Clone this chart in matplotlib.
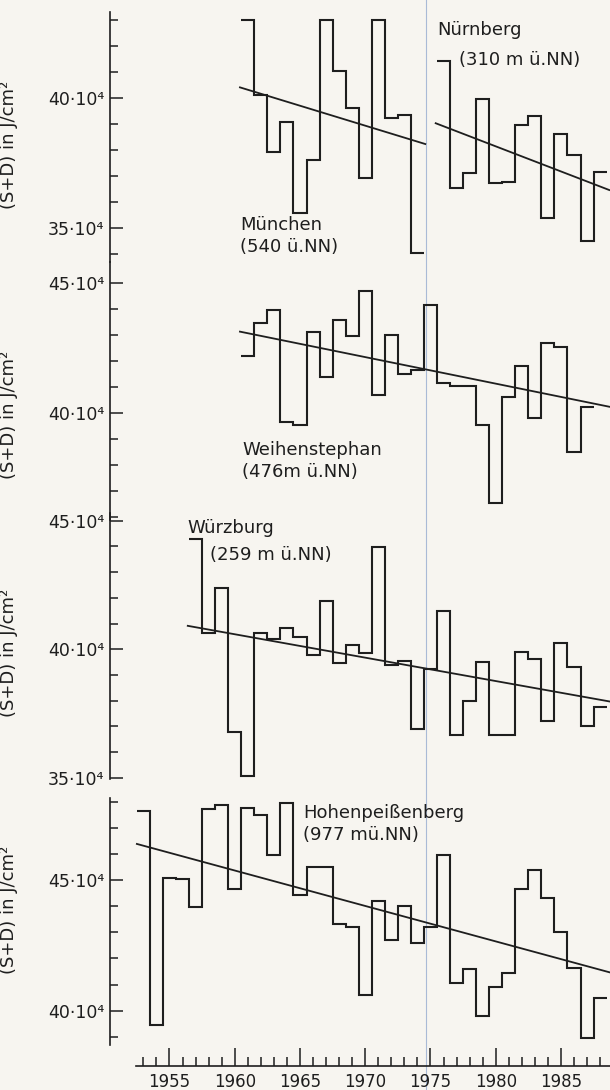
'''Global radiation (S+D) at five Bavarian stations, annual sums with trend'''

import numpy as np
import matplotlib.pyplot as plt
from matplotlib.lines import Line2D
from matplotlib.ticker import FixedLocator, NullFormatter

# --- data (values in 10^4 J/cm^2) ---
years_muenchen = list(range(1961, 1975))
muenchen = [43.01, 40.13, 37.95, 39.10, 35.58, 37.63, 43.01,
            41.05, 39.64, 36.92, 43.01, 39.23, 39.36, 34.04]
muenchen_trend_x = [1960.4, 1974.6]
muenchen_trend_y = [40.42, 38.24]

years_nuernberg = list(range(1976, 1989))
nuernberg = [41.45, 36.54, 37.11, 39.96, 36.73, 36.78, 38.97,
             39.32, 35.38, 38.63, 37.82, 34.49, 37.18]
nuernberg_trend_x = [1975.4, 1988.7]
nuernberg_trend_y = [39.04, 36.47]

years_weihenstephan = list(range(1961, 1989))
weihenstephan = [42.19, 43.47, 43.96, 39.67, 39.54, 43.13, 41.37,
                 43.58, 42.97, 44.70, 40.69, 43.00, 41.49, 41.65,
                 44.15, 41.17, 41.04, 41.04, 39.54, 36.53, 40.63,
                 41.81, 39.82, 42.71, 42.53, 38.51, 40.22]
years_weihenstephan = list(range(1961, 1988 + 1))[:len(weihenstephan)]
weihenstephan_trend_x = [1960.4, 1988.7]
weihenstephan_trend_y = [43.13, 40.24]

years_wuerzburg = list(range(1957, 1989))
wuerzburg = [44.28, 40.62, 42.37, 36.76, 35.07, 40.62, 40.39, 40.84,
             40.49, 39.78, 41.88, 39.48, 40.17, 39.87, 43.99, 39.39,
             39.56, 36.89, 39.22, 41.49, 36.67, 37.99, 39.52, 36.67,
             36.67, 39.91, 39.61, 37.22, 40.26, 39.29, 37.00, 37.77]
wuerzburg_trend_x = [1956.4, 1988.8]
wuerzburg_trend_y = [40.91, 37.96]

years_hohen = list(range(1953, 1989))
hohen = [47.66, 39.45, 45.07, 45.03, 43.96, 47.72, 47.88, 44.65,
         47.75, 47.50, 45.97, 47.95, 44.43, 45.49, 45.49, 43.32,
         43.22, 40.60, 44.20, 42.71, 44.01, 42.58, 43.19, 45.97,
         41.05, 41.60, 39.80, 40.92, 41.43, 44.65, 45.39, 44.31,
         43.03, 41.62, 38.94, 40.47]
hohen_trend_x = [1952.5, 1988.8]
hohen_trend_y = [46.39, 41.46]

year_ticks = [1955, 1960, 1965, 1970, 1975, 1980, 1985]
minor_years = list(range(1953, 1989))

INK = '#1e1e1e'
PAPER = '#f7f5f0'
W, H = 610, 1090
LEFT_PX = 110
XLIM = (1950.44, 1988.76)


def _stairs(ax, years, values):
    edges = np.append(np.array(years) - 0.5, years[-1] + 0.5)
    ax.stairs(values, edges, baseline=None, color=INK, lw=1.5, clip_on=False)


def _panel(fig, top_px, bottom_px, ylim, major, minor, label_y):
    ax = fig.add_axes([LEFT_PX / W, 1 - bottom_px / H,
                       1 - LEFT_PX / W, (bottom_px - top_px) / H])
    ax.set_facecolor('none')
    ax.set_xlim(*XLIM)
    ax.set_ylim(*ylim)
    for side in ('top', 'right', 'bottom'):
        ax.spines[side].set_visible(False)
    ax.spines['left'].set_linewidth(1.2)
    ax.spines['left'].set_color(INK)
    ax.yaxis.set_major_locator(FixedLocator(major))
    ax.yaxis.set_minor_locator(FixedLocator(minor))
    ax.yaxis.set_minor_formatter(NullFormatter())
    ax.set_yticklabels([f'{m}·10⁴' for m in major])
    ax.tick_params(axis='y', which='major', direction='in', length=9,
                   width=1.1, color=INK, labelsize=12.5, pad=4,
                   labelcolor=INK)
    ax.tick_params(axis='y', which='minor', direction='in', length=5.5,
                   width=1.1, color=INK)
    ax.set_xticks([])
    ax.set_ylabel('(S+D) in J/cm²', fontsize=13, color=INK)
    ax.yaxis.set_label_coords(-0.184, label_y)
    return ax


def _label(ax, x, y, text, size=13):
    ax.text(x, y, text, ha='left', va='center', fontsize=size, color=INK)


fig = plt.figure(figsize=(W / 100, H / 100), dpi=100)
fig.patch.set_facecolor(PAPER)

# München / Nürnberg
ax1 = _panel(fig, 12, 262, (33.70, 43.32), [35, 40], range(34, 44), 0.468)
_stairs(ax1, years_muenchen, muenchen)
_stairs(ax1, years_nuernberg, nuernberg)
ax1.plot(muenchen_trend_x, muenchen_trend_y, color=INK, lw=1.3)
ax1.plot(nuernberg_trend_x, nuernberg_trend_y, color=INK, lw=1.3)
_label(ax1, 1975.5, 42.63, 'Nürnberg')
_label(ax1, 1977.2, 41.47, '(310 m ü.NN)')
_label(ax1, 1960.4, 35.13, 'München')
_label(ax1, 1960.4, 34.28, '(540 ü.NN)')

# Weihenstephan
ax2 = _panel(fig, 262, 520, (35.88, 45.81), [40, 45], range(36, 46), 0.407)
_stairs(ax2, years_weihenstephan, weihenstephan)
ax2.plot(weihenstephan_trend_x, weihenstephan_trend_y, color=INK, lw=1.3)
_label(ax2, 1960.55, 38.58, 'Weihenstephan')
_label(ax2, 1960.55, 37.73, '(476m ü.NN)')

# Würzburg
ax3 = _panel(fig, 513, 779, (34.95, 45.30), [35, 40, 45], range(35, 46), 0.474)
_stairs(ax3, years_wuerzburg, wuerzburg)
ax3.plot(wuerzburg_trend_x, wuerzburg_trend_y, color=INK, lw=1.3)
_label(ax3, 1956.35, 44.72, 'Würzburg')
_label(ax3, 1958.1, 43.67, '(259 m ü.NN)')

# Hohenpeißenberg, carries the year axis
ax4 = _panel(fig, 798, 1066, (37.88, 48.15), [40, 45], range(39, 49), 0.582)
ax4.spines['left'].set_bounds(38.7, 48.15)
_stairs(ax4, years_hohen, hohen)
ax4.plot(hohen_trend_x, hohen_trend_y, color=INK, lw=1.3)
_label(ax4, 1965.25, 47.57, 'Hohenpeißenberg')
_label(ax4, 1965.25, 46.73, '(977 mü.NN)')

ax4.spines['bottom'].set_visible(True)
ax4.spines['bottom'].set_linewidth(1.2)
ax4.spines['bottom'].set_color(INK)
ax4.spines['bottom'].set_bounds(1952.4, XLIM[1])
ax4.set_xticks(year_ticks)
ax4.set_xticks(minor_years, minor=True)
ax4.set_xticklabels([str(y) for y in year_ticks])
ax4.tick_params(axis='x', which='major', direction='in', length=13,
                width=1.1, color=INK, labelsize=12, pad=5, labelcolor=INK)
ax4.tick_params(axis='x', which='minor', direction='in', length=6.5,
                width=1.1, color=INK)

# faint fold line of the scanned original
fig.add_artist(Line2D([425.7 / W, 425.7 / W], [0, 1], transform=fig.transFigure,
                      color='#a9bad6', lw=0.8, zorder=0))

fig.savefig('out.png', dpi=100, facecolor=fig.get_facecolor())
